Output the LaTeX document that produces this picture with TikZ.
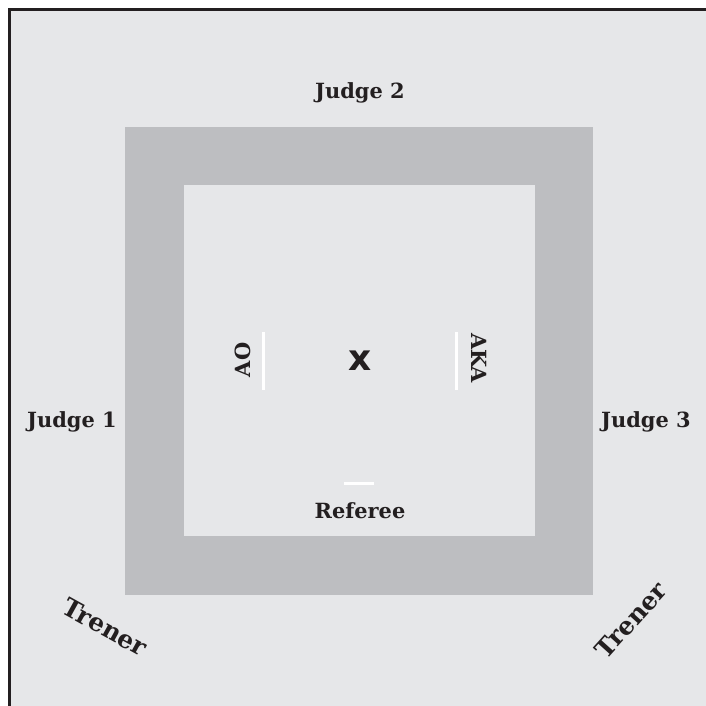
\documentclass[tikz,border=0pt]{standalone}
\usepackage{fontspec}
\setmainfont{DejaVu Serif}
\newfontfamily\marksans{DejaVu Sans}
\usepackage{tikz}
\usetikzlibrary{positioning}
\definecolor{matLight}{RGB}{230,231,233}
\definecolor{matGray}{RGB}{189,190,193}
\definecolor{inkDark}{RGB}{35,31,32}
\tikzstyle{seatlabel}=[inner sep=0pt, text=inkDark, font=\bfseries\fontsize{21}{24}\selectfont]
\tikzstyle{coachlabel}=[inner sep=0pt, text=inkDark, font=\bfseries\fontsize{25}{28}\selectfont]
\tikzstyle{whitemark}=[draw=white, line width=3bp]

\begin{document}
\begin{tikzpicture}[x=1bp, y=-1bp]
    \useasboundingbox (0,0) rectangle (706,706);
    \clip (0,0) rectangle (706,706);
    % Ramka
    \fill[white] (0,0) rectangle (706,706);
    \filldraw[fill=matLight, draw=inkDark, line width=3bp] (9.5,9.5) rectangle (740,740);

    % Mata
    \fill[matGray]  (125,127) rectangle (593,595);
    \fill[matLight] (184,185) rectangle (535,536);

    % Sedziowie
    \node[seatlabel, anchor=base] (judgeTwo)   at (360,99)  {Judge 2};
    \node[seatlabel, anchor=base] (judgeOne)   at (72,427)  {Judge 1};
    \node[seatlabel, anchor=base] (judgeThree) at (646,427) {Judge 3};

    % Zawodnicy
    \node[seatlabel, rotate=90]  (ao)  at (243,360) {AO};
    \node[seatlabel, rotate=-90] (aka) at (479,358) {AKA};
    \node[inner sep=0pt, text=inkDark, font=\marksans\bfseries\fontsize{36}{36}\selectfont] (centre) at (360,361) {x};
    \draw[whitemark] (263,332) -- (263,390);
    \draw[whitemark] (456,332) -- (456,390);

    % Sedzia
    \draw[whitemark] (344,483) -- (374,483);
    \node[seatlabel, anchor=base] (referee) at (360,518) {Referee};

    % Trenerzy
    \node[coachlabel, rotate=-29] (coachLeft)  at (105,627) {Trener};
    \node[coachlabel, rotate=48]  (coachRight) at (631,620) {Trener};
  \end{tikzpicture}
\end{document}
